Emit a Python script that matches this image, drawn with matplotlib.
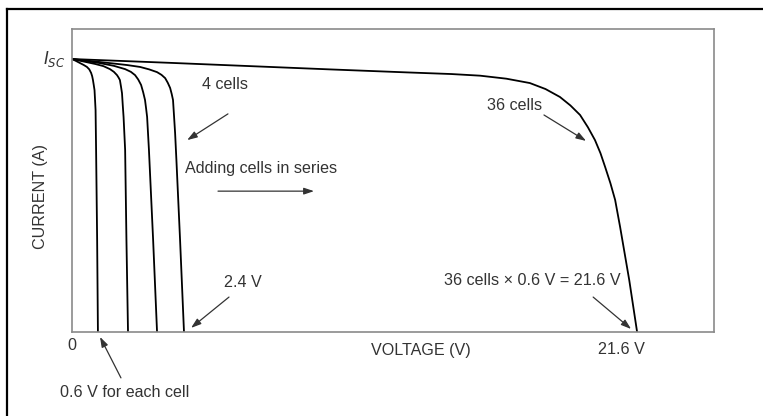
import matplotlib
matplotlib.use("Agg")
from matplotlib import pyplot as plt
from matplotlib.lines import Line2D

plt.rcParams['font.family'] = ['Liberation Sans', 'DejaVu Sans']
plt.rcParams['mathtext.fontset'] = 'dejavusans'

# I-V curves (x in the chart's voltage units, y as fraction of Isc)
v_1cell = [0, 0.15, 0.31, 0.45, 0.57, 0.66, 0.73, 0.77, 0.80, 0.83, 0.86, 0.88, 0.90, 0.92, 0.96, 0.99]
i_1cell = [1.0, 0.993, 0.985, 0.978, 0.971, 0.962, 0.949, 0.937, 0.923, 0.905, 0.886, 0.85, 0.813, 0.667, 0.337, 0.0]

v_2cell = [0, 0.88, 1.2, 1.45, 1.6, 1.72, 1.78, 1.83, 1.87, 1.91, 1.94, 1.97, 2.03, 2.08, 2.14]
i_2cell = [1.0, 0.982, 0.974, 0.963, 0.953, 0.941, 0.932, 0.923, 0.90, 0.875, 0.83, 0.788, 0.667, 0.337, 0.0]

v_3cell = [0, 1.07, 1.6, 2.03, 2.25, 2.41, 2.53, 2.64, 2.72, 2.79, 2.83, 2.87, 2.94, 3.10, 3.25]
i_3cell = [1.0, 0.985, 0.975, 0.963, 0.953, 0.941, 0.925, 0.905, 0.878, 0.850, 0.82, 0.788, 0.667, 0.337, 0.0]

v_4cell = [0, 1.45, 2.1, 2.60, 2.95, 3.25, 3.42, 3.56, 3.66, 3.75, 3.81, 3.86, 3.90, 3.94, 3.99, 4.13, 4.28]
i_4cell = [1.0, 0.985, 0.978, 0.971, 0.962, 0.952, 0.942, 0.930, 0.913, 0.894, 0.872, 0.850, 0.79, 0.729, 0.630, 0.337, 0.0]

v_36cell = [0, 3.75, 9.86, 12.8, 14.5, 15.6, 16.6, 17.5, 18.1, 18.65, 19.05, 19.42, 19.72,
            19.99, 20.2, 20.38, 20.58, 20.76, 20.95, 21.3, 21.6]
i_36cell = [1.0, 0.986, 0.962, 0.951, 0.945, 0.939, 0.928, 0.912, 0.89, 0.861, 0.83, 0.795, 0.75,
            0.703, 0.655, 0.604, 0.545, 0.484, 0.385, 0.19, 0.0]

curves = [(v_1cell, i_1cell), (v_2cell, i_2cell), (v_3cell, i_3cell),
          (v_4cell, i_4cell), (v_36cell, i_36cell)]

fig = plt.figure(figsize=(7.63, 4.16), dpi=100)
ax = fig.add_axes([0.0944, 0.2019, 0.8414, 0.7284])

for v, i in curves:
    ax.plot(v, i, color="black", lw=1.3, solid_joinstyle="round")

ax.set_xlim(0, 24.54)
ax.set_ylim(0, 1.11)
ax.set_xticks([])
ax.set_yticks([])
for s in ax.spines.values():
    s.set_color("#8a8a8a")
    s.set_linewidth(1.2)

txt = dict(color="#333333", fontsize=11.6, clip_on=False)
arr = dict(arrowstyle="-|>,head_length=0.6,head_width=0.2", color="#333333", lw=0.9,
           shrinkA=0, shrinkB=0)

ax.text(-0.69, 1.0, r"$I_{SC}$", ha="center", va="center", color="#333333", fontsize=12)
ax.text(0, -0.05, "0", ha="center", va="center", **txt)
ax.text(21.0, -0.063, "21.6 V", ha="center", va="center", **txt)
ax.text(13.34, -0.066, "VOLTAGE (V)", ha="center", va="center", **txt)
ax.text(-1.19, 0.495, "CURRENT (A)", ha="center", va="center", rotation=90, **txt)

ax.text(5.85, 0.908, "4 cells", ha="center", va="center", **txt)
ax.annotate("", xy=(4.40, 0.703), xytext=(5.96, 0.799), arrowprops=arr)

ax.text(4.32, 0.60, "Adding cells in series", ha="left", va="center", **txt)
ax.annotate("", xy=(9.25, 0.516), xytext=(5.58, 0.516), arrowprops=arr)

ax.text(16.93, 0.828, "36 cells", ha="center", va="center", **txt)
ax.annotate("", xy=(19.65, 0.70), xytext=(18.04, 0.795), arrowprops=arr)

ax.text(6.54, 0.18, "2.4 V", ha="center", va="center", **txt)
ax.annotate("", xy=(4.55, 0.015), xytext=(6.0, 0.128), arrowprops=arr)

ax.text(17.58, 0.187, "36 cells \u00d7 0.6 V = 21.6 V", ha="center", va="center", **txt)
ax.annotate("", xy=(21.37, 0.011), xytext=(19.92, 0.128), arrowprops=arr)

ax.text(-0.46, -0.223, "0.6 V for each cell", ha="left", va="center", **txt)
ax.annotate("", xy=(1.07, -0.018), xytext=(1.87, -0.168), arrowprops=arr,
            annotation_clip=False)

# outer frame (only top and left edges show in the picture)
fig.add_artist(Line2D([7 / 763, 1.0], [1 - 9 / 416, 1 - 9 / 416], color="black", lw=1.6))
fig.add_artist(Line2D([7 / 763, 7 / 763], [0, 1 - 9 / 416], color="black", lw=1.6))

fig.savefig("out.png", dpi=100)
